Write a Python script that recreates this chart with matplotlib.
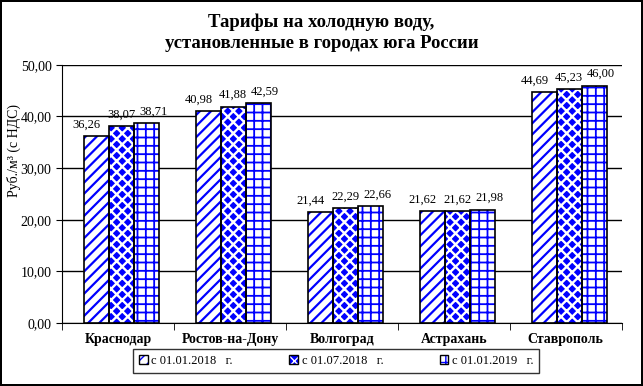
import matplotlib.pyplot as plt
import numpy as np

# данные
cities = ["Краснодар", "Ростов-на-Дону", "Волгоград", "Астрахань", "Ставрополь"]
t_2018_01 = [36.26, 40.98, 21.44, 21.62, 44.69]
t_2018_07 = [38.07, 41.88, 22.29, 21.62, 45.23]
t_2019_01 = [38.71, 42.59, 22.66, 21.98, 46.00]
series_names = ["с 01.01.2018   г.", "с 01.07.2018   г.", "с 01.01.2019   г."]

plt.rcParams['font.family'] = ['Liberation Serif', 'DejaVu Serif']

fig = plt.figure(figsize=(6.43, 3.86), dpi=100)
fig.patch.set_edgecolor("black")
fig.patch.set_linewidth(1.5)
ax = fig.add_axes([0.0964, 0.163, 0.8706, 0.669])

x = np.arange(len(cities))
w = 0.223
# (заливка, цвет штриховки, штриховка, толщина штриховки)
styles = [("white", "blue", "///", 1.6),
          ("blue", "white", "xxx", 1.7),
          ("white", "blue", "++", 1.3)]
series = [t_2018_01, t_2018_07, t_2019_01]
handles = []
for i, (vals, st) in enumerate(zip(series, styles)):
    fc, hc, h, hlw = st
    pos = x + (i - 1) * w + 0.03
    with plt.rc_context({'hatch.linewidth': hlw}):
        ax.bar(pos, vals, width=w, color=fc, edgecolor=hc, hatch=h,
               linewidth=0, zorder=2)
        hatch_patch = plt.Rectangle((0, 0), 1, 1, facecolor=fc,
                                    edgecolor=hc, hatch=h, linewidth=0)
    border = plt.Rectangle((0, 0), 1, 1, fill=False, edgecolor="black",
                           linewidth=1)
    handles.append((hatch_patch, border))
    ax.bar(pos, vals, width=w, fill=False, edgecolor="black",
           linewidth=1.2, zorder=3)
    dx = [-7, 0, 5][i]
    for xp, v in zip(pos, vals):
        ax.annotate(f"{v:.2f}".replace(".", ","), (xp, v), xytext=(dx, 4),
                    textcoords="offset points", ha="center", va="bottom",
                    fontsize=9)

ax.set_xlim(-0.5, 4.5)
ax.set_ylim(0, 50)
ax.set_yticks(np.arange(0, 51, 10))
ax.set_yticklabels([f"{v:.2f}".replace(".", ",") for v in np.arange(0, 51, 10)],
                   fontsize=10)
ax.set_xticks(x)
ax.set_xticklabels(cities, fontsize=10, fontweight="bold")
ax.tick_params(axis="x", which="major", length=0, pad=7)
ax.set_xticks(np.arange(-0.5, 5, 1), minor=True)
ax.tick_params(axis="x", which="minor", length=5, direction="out")
ax.tick_params(axis="y", length=4, direction="out")
ax.yaxis.grid(True, color="black", linewidth=1)
ax.set_axisbelow(True)
for s in ["top", "right"]:
    ax.spines[s].set_visible(False)

fig.text(0.022, 0.61, "Руб./м³ (с НДС)", rotation=90, ha="center", va="center",
         fontsize=10)
fig.text(0.5, 0.915, "Тарифы на холодную воду,\nустановленные в городах юга России",
         ha="center", va="center", fontsize=13.5, fontweight="bold", linespacing=1.3)

leg = ax.legend(handles, series_names, ncol=3, loc="center",
                bbox_to_anchor=(0.49, -0.147), frameon=True, fancybox=False,
                edgecolor="black", fontsize=9, handlelength=0.7,
                handleheight=0.7, columnspacing=4.5, handletextpad=0.3,
                borderpad=0.45)
leg.get_frame().set_linewidth(1)

fig.savefig("out.png", dpi=100)
